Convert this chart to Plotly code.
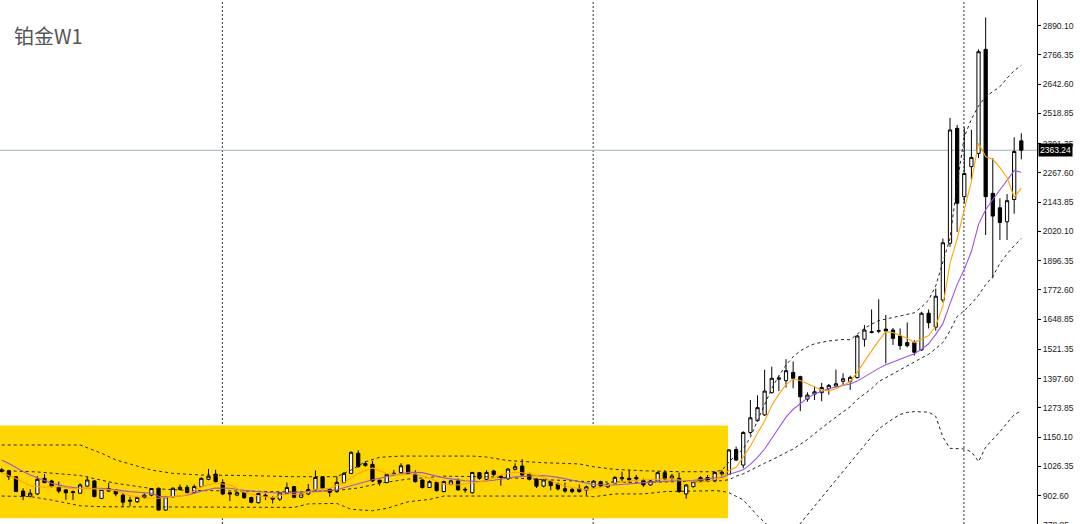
import plotly.graph_objects as go

# ---------------- weekly OHLC (bar index 0..143) ----------------
opens = [1012, 1008, 983, 922, 901, 910, 976, 965, 941, 927,
         920, 913, 943, 965, 891, 933, 927, 905, 884, 877,
         895, 905, 934, 842, 898, 929, 938, 916, 941, 972,
         994, 958, 915, 905, 915, 895, 873, 905, 895, 888,
         912, 941, 896, 910, 927, 983, 930, 920, 958, 997,
         1082, 1030, 1035, 968, 958, 995, 1000, 1032, 994, 969,
         937, 959, 920, 951, 965, 930, 915, 1000, 972, 1007,
         985, 974, 1014, 1028, 995, 973, 943, 966, 952, 932,
         929, 933, 926, 940, 962, 940, 955, 974, 976, 980,
         967, 948, 964, 1000, 976, 976, 910, 941, 965, 979,
         965, 995, 993, 1098, 1032, 1170, 1220, 1244, 1338, 1395,
         1389, 1424, 1406, 1311, 1332, 1338, 1356, 1366, 1386, 1386,
         1402, 1564, 1596, 1598, 1607, 1603, 1578, 1550, 1550, 1519,
         1674, 1615, 1730, 1970, 2456, 2167, 2294, 2350, 2790, 2181,
         2120, 2061, 2155, 2403]
highs = [1020, 1012, 985, 934, 930, 985, 994, 970, 962, 930,
         924, 955, 985, 968, 932, 957, 930, 912, 898, 898,
         912, 935, 937, 900, 938, 950, 948, 950, 980, 1016,
         1012, 972, 918, 920, 920, 898, 915, 912, 900, 918,
         958, 944, 915, 952, 1009, 986, 935, 985, 1003, 1090,
         1095, 1048, 1050, 970, 998, 1012, 1040, 1035, 1010, 972,
         968, 962, 966, 970, 975, 938, 1003, 1003, 1010, 1012,
         990, 1020, 1040, 1057, 1000, 976, 972, 969, 958, 958,
         935, 950, 945, 968, 966, 955, 985, 1004, 1011, 990,
         975, 968, 1005, 1010, 995, 1000, 950, 966, 985, 990,
         1005, 1010, 1100, 1110, 1175, 1307, 1327, 1435, 1448, 1410,
         1480, 1470, 1410, 1340, 1365, 1380, 1375, 1436, 1420, 1410,
         1582, 1624, 1690, 1733, 1667, 1612, 1610, 1635, 1560, 1680,
         1690, 1778, 1990, 2500, 2470, 2460, 2450, 2790, 2925, 2330,
         2160, 2178, 2418, 2435]
lows = [1000, 969, 918, 884, 895, 905, 955, 938, 913, 885,
        884, 910, 940, 895, 888, 918, 900, 854, 858, 872,
        890, 900, 840, 838, 895, 925, 912, 912, 938, 968,
        958, 905, 880, 900, 890, 870, 870, 884, 870, 880,
        910, 892, 893, 905, 925, 930, 898, 915, 955, 994,
        1022, 1025, 960, 945, 955, 988, 995, 990, 958, 933,
        935, 920, 917, 947, 925, 915, 912, 970, 965, 985,
        945, 970, 1010, 987, 967, 935, 938, 925, 925, 915,
        913, 915, 903, 935, 940, 935, 950, 962, 955, 965,
        940, 945, 960, 968, 965, 915, 890, 937, 960, 960,
        960, 980, 990, 1050, 1018, 1160, 1215, 1240, 1335, 1345,
        1360, 1357, 1260, 1300, 1307, 1302, 1330, 1360, 1370, 1350,
        1398, 1533, 1589, 1590, 1462, 1540, 1520, 1530, 1495, 1515,
        1610, 1600, 1720, 1955, 2018, 2140, 2240, 2330, 2005, 1822,
        1984, 1984, 2095, 2325]
closes = [1005, 983, 920, 901, 913, 972, 958, 941, 922, 915,
          916, 948, 969, 899, 929, 922, 910, 875, 880, 895,
          905, 933, 842, 898, 934, 938, 916, 941, 976, 985,
          962, 910, 910, 915, 894, 875, 912, 900, 888, 915,
          937, 896, 910, 929, 980, 933, 917, 959, 997, 1086,
          1025, 1039, 965, 959, 993, 997, 1029, 997, 962, 937,
          962, 924, 962, 965, 927, 927, 1001, 976, 1001, 992,
          980, 1015, 1025, 990, 972, 943, 969, 945, 931, 922,
          920, 920, 940, 964, 944, 952, 980, 979, 970, 974,
          948, 965, 1000, 973, 986, 920, 948, 962, 979, 965,
          1001, 1002, 1096, 1053, 1170, 1232, 1275, 1345, 1399, 1400,
          1431, 1399, 1321, 1328, 1342, 1360, 1369, 1376, 1397, 1403,
          1578, 1603, 1593, 1600, 1599, 1568, 1537, 1537, 1509, 1674,
          1634, 1746, 1972, 2449, 2139, 2265, 2333, 2780, 2167, 2085,
          2058, 2150, 2358, 2363.24]
bars = list(range(len(closes)))

# ---------------- indicator lines (bar index, price) ----------------
ma_fast_idx = [0, 2, 4, 6, 8, 10, 12, 14, 16, 18, 20, 22, 24, 26, 28, 30, 32, 34, 36, 38,
               40, 42, 44, 46, 48, 50, 52, 54, 56, 58, 60, 62, 64, 66, 68, 70, 72, 74, 76, 78,
               80, 82, 84, 86, 88, 90, 92, 94, 96, 98, 100, 101, 102, 103, 104, 105, 106, 107,
               108, 109, 110, 111, 112, 113, 114, 115, 116, 117, 118, 119, 120, 121, 122, 123,
               124, 125, 126, 127, 128, 129, 130, 131, 132, 133, 134, 135, 136, 137, 138, 139,
               140, 141, 142, 143]
ma_fast_val = [1000, 975, 945, 938, 942, 932, 933, 930, 925, 903, 893, 892, 900, 906, 940, 956,
               948, 918, 901, 894, 910, 909, 930, 934, 957, 997, 1020, 996, 990, 995, 977, 950,
               948, 956, 966, 990, 1003, 996, 980, 952, 937, 927, 938, 956, 965, 970, 971, 974,
               965, 959, 971, 985, 1009, 1023, 1066, 1112, 1168, 1218, 1284, 1332, 1372, 1396,
               1390, 1376, 1362, 1350, 1346, 1355, 1369, 1385, 1425, 1472, 1515, 1558, 1595,
               1593, 1580, 1568, 1550, 1565, 1580, 1620, 1705, 1885, 1988, 2112, 2232, 2393,
               2337, 2325, 2290, 2248, 2164, 2203]

ma_slow_idx = [0, 1, 3, 4, 7, 9, 11, 14, 16, 18, 21, 22, 24, 26, 28, 30, 32, 34, 37, 39,
               41, 44, 47, 50, 52, 54, 57, 59, 60, 62, 65, 67, 69, 72, 74, 76, 78, 81, 83, 86,
               88, 90, 92, 95, 97, 99, 100, 101, 102, 103, 104, 105, 106, 107, 108, 109, 110,
               111, 112, 113, 114, 115, 116, 117, 118, 119, 120, 121, 122, 123, 124, 125, 126,
               127, 128, 129, 130, 131, 132, 133, 134, 135, 136, 137, 138, 139, 140, 141, 142, 143]
ma_slow_val = [1053, 1039, 1005, 990, 955, 941, 934, 934, 927, 920, 913, 900, 898, 905, 922,
               935, 934, 925, 917, 914, 917, 920, 928, 955, 970, 983, 1002, 1000, 992, 978,
               966, 962, 968, 982, 986, 988, 980, 962, 950, 948, 953, 958, 962, 966, 968, 974,
               976, 980, 992, 1002, 1012, 1035, 1065, 1100, 1145, 1190, 1235, 1268, 1293, 1315,
               1333, 1345, 1355, 1362, 1368, 1375, 1387, 1405, 1425, 1441, 1456, 1468, 1478,
               1490, 1503, 1522, 1545, 1585, 1630, 1715, 1795, 1860, 1935, 2050, 2112, 2155,
               2195, 2240, 2277, 2270]

bb_upper_idx = [0, 11, 14, 16, 19, 21, 24, 28, 34, 41, 47, 49, 51, 53, 56, 66, 68, 71, 76, 81,
                83, 86, 90, 95, 100, 101, 102, 103, 104, 105, 106, 107, 108, 109, 110, 111, 112,
                113, 114, 116, 118, 119, 120, 121, 122, 123, 125, 127, 128, 129, 130, 131, 132,
                133, 134, 135, 136, 137, 138, 139, 140, 141, 142, 143]
bb_upper_val = [1117, 1117, 1082, 1054, 1028, 1011, 997, 990, 988, 983, 983, 1011, 1046, 1065,
                1070, 1070, 1066, 1051, 1042, 1037, 1025, 1014, 1008, 1004, 1004, 1010, 1045,
                1075, 1100, 1150, 1220, 1290, 1356, 1410, 1455, 1490, 1515, 1532, 1545, 1557,
                1563, 1562, 1585, 1610, 1628, 1643, 1656, 1668, 1676, 1700, 1730, 1790, 1890,
                1990, 2220, 2420, 2495, 2550, 2590, 2610, 2632, 2668, 2700, 2722]

bb_mid_idx = [0, 5, 11, 16, 21, 26, 34, 41, 47, 50, 53, 57, 62, 68, 76, 83, 90, 95, 100, 101,
              102, 103, 104, 105, 106, 107, 108, 109, 110, 111, 112, 113, 114, 115, 116, 117,
              118, 119, 120, 121, 122, 123, 124, 125, 126, 127, 128, 129, 130, 131, 132, 133,
              134, 135, 136, 137, 138, 139, 140, 141, 142, 143]
bb_mid_val = [1009, 1003, 988, 955, 933, 925, 922, 918, 925, 935, 955, 973, 985, 983, 971, 961,
              959, 962, 964, 966, 970, 985, 995, 1011, 1025, 1040, 1054, 1068, 1085, 1100, 1120,
              1140, 1165, 1190, 1212, 1235, 1258, 1279, 1310, 1332, 1355, 1385, 1400, 1418,
              1435, 1450, 1468, 1485, 1500, 1525, 1550, 1600, 1660, 1685, 1715, 1750, 1795,
              1830, 1885, 1925, 1960, 1990]

bb_lower_idx = [0, 4, 7, 11, 14, 34, 41, 43, 47, 49, 52, 54, 57, 60, 62, 82, 83, 86, 90, 93,
                97, 100, 101, 102, 103, 104, 105, 106, 107, 108, 109, 110, 111, 112, 113, 114,
                115, 116, 117, 118, 119, 120, 121, 122, 123, 124, 125, 126, 127, 128, 129, 130,
                131, 132, 133, 134, 135, 136, 137, 138, 139, 140, 141, 142, 143]
bb_lower_val = [901, 899, 884, 860, 856, 856, 853, 868, 870, 845, 839, 849, 877, 887, 901, 901,
                898, 910, 910, 920, 924, 924, 922, 915, 900, 885, 852, 818, 790, 760, 745, 738,
                748, 785, 822, 860, 893, 930, 968, 1008, 1045, 1080, 1117, 1152, 1185, 1207,
                1228, 1246, 1255, 1258, 1258, 1256, 1238, 1150, 1103, 1103, 1100, 1088, 1047,
                1108, 1140, 1173, 1210, 1245, 1262]

# ---------------- chart objects ----------------
title_text = "铂金W1"
last_price = 2363.24
separator_bars = [31, 83, 135]                 # yearly period separators
highlight_box = dict(x0=-2, x1=101.87, y0=807, y1=1199)   # yellow rectangle object

tick_vals = [902.60, 1026.35, 1150.10, 1273.85, 1397.60, 1521.35, 1648.85, 1772.60,
             1896.35, 2020.10, 2143.85, 2267.60, 2391.35, 2518.85, 2642.60, 2766.35, 2890.10]
tick_text = ["%.2f" % v for v in tick_vals]
cut_tick_val = 778.85

x_range = [-0.24, 145.2]
y_range = [782.9, 2998.6]

TICK_FONT = dict(family="Liberation Sans, Arial, sans-serif", size=8.5, color="#1a1a1a")

fig = go.Figure()

fig.add_trace(go.Candlestick(
    x=bars, open=opens, high=highs, low=lows, close=closes,
    increasing=dict(line=dict(color="black", width=1), fillcolor="white"),
    decreasing=dict(line=dict(color="black", width=1), fillcolor="black"),
    whiskerwidth=0, hoverinfo="skip", showlegend=False,
))

dash_style = dict(color="#222222", width=1, dash="3px,3px")
for xi, yv in [(bb_upper_idx, bb_upper_val), (bb_mid_idx, bb_mid_val), (bb_lower_idx, bb_lower_val)]:
    fig.add_trace(go.Scatter(x=xi, y=yv, mode="lines", line=dash_style,
                             hoverinfo="skip", showlegend=False))

fig.add_trace(go.Scatter(x=ma_slow_idx, y=ma_slow_val, mode="lines",
                         line=dict(color="#9b55e6", width=1.1), hoverinfo="skip", showlegend=False))
fig.add_trace(go.Scatter(x=ma_fast_idx, y=ma_fast_val, mode="lines",
                         line=dict(color="#ffa500", width=1.1), hoverinfo="skip", showlegend=False))

shapes = [dict(type="rect", xref="x", yref="y", layer="below",
               x0=highlight_box["x0"], x1=highlight_box["x1"],
               y0=highlight_box["y0"], y1=highlight_box["y1"],
               fillcolor="#FFD700", line=dict(width=0))]
for b in separator_bars:
    shapes.append(dict(type="line", xref="x", yref="paper", layer="below",
                       x0=b - 0.05, x1=b - 0.05, y0=0, y1=1,
                       line=dict(color="#333333", width=1, dash="2px,2px")))
shapes.append(dict(type="line", xref="paper", yref="y", layer="below",
                   x0=0, x1=1, y0=last_price, y1=last_price,
                   line=dict(color="#9fb0c2", width=1)))

annotations = [
    dict(text=title_text, xref="paper", yref="paper", x=12 / 1037, y=1 - 35 / 524,
         xanchor="left", yanchor="middle", showarrow=False,
         font=dict(family="Noto Sans CJK SC", size=20, color="#555555")),
    dict(text="%.2f" % last_price, xref="paper", yref="y", x=1, y=last_price,
         xanchor="left", yanchor="middle", xshift=1, showarrow=False,
         bgcolor="black", borderpad=1,
         font=dict(family=TICK_FONT["family"], size=8.5, color="white")),
    dict(text="%.2f" % cut_tick_val, xref="paper", yref="paper", x=1,
         y=(cut_tick_val - y_range[0]) / (y_range[1] - y_range[0]),
         xanchor="left", yanchor="middle", xshift=4, showarrow=False, font=TICK_FONT),
]

fig.update_layout(
    width=1080, height=524, autosize=False,
    margin=dict(l=0, r=43, t=0, b=0),
    paper_bgcolor="white", plot_bgcolor="white",
    showlegend=False,
    shapes=shapes, annotations=annotations,
    boxgap=0.35,
    xaxis=dict(range=x_range, visible=False, rangeslider=dict(visible=False),
               showgrid=False, zeroline=False, fixedrange=True),
    yaxis=dict(range=y_range, side="right", showgrid=False, zeroline=False,
               showline=True, linecolor="black", linewidth=1,
               ticks="outside", ticklen=3, tickcolor="black", tickwidth=1,
               tickvals=tick_vals, ticktext=tick_text, tickfont=TICK_FONT,
               fixedrange=True),
)

fig.write_html("out.html", config={"displayModeBar": False},
               post_script="document.body.style.margin='0';document.body.style.overflow='hidden';")
